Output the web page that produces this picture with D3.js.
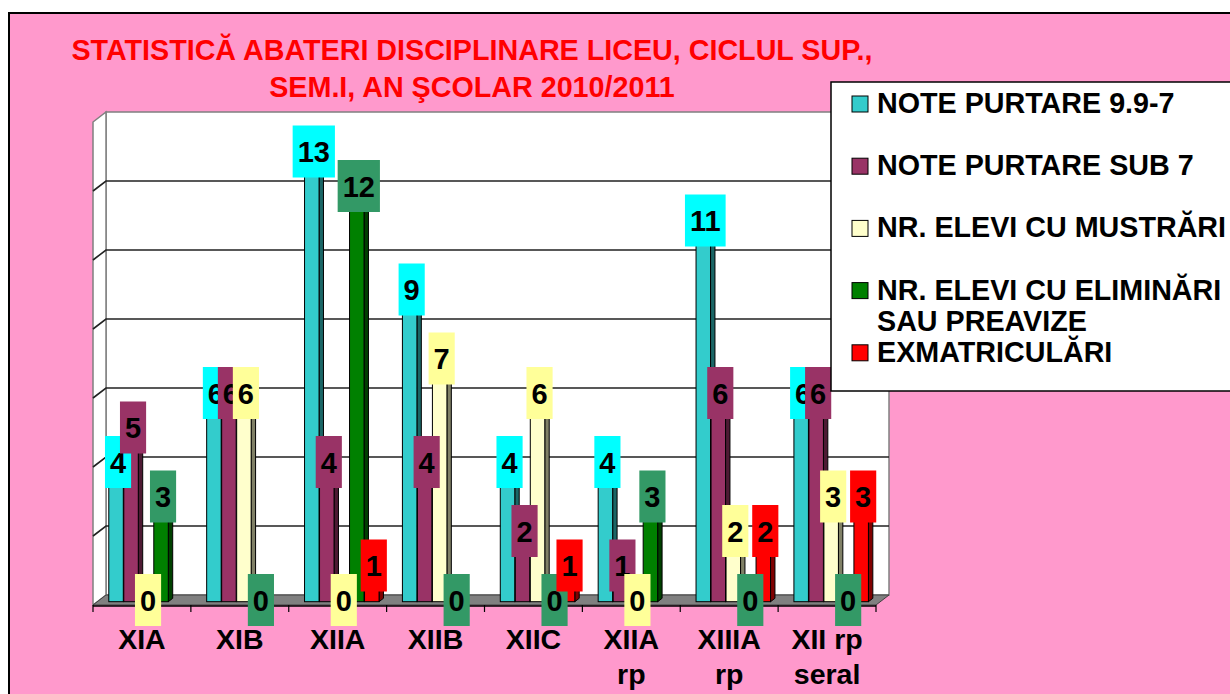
<!DOCTYPE html>
<html lang="en">
<head>
<meta charset="utf-8">
<script src="https://d3js.org/d3.v7.min.js"></script>
<style>
body { margin: 0; background: #ffffff; }
svg text { font-family: "Liberation Sans", Arial, sans-serif; font-weight: bold; }
</style>
</head>
<body>
<div id="chart"></div>
<script>
// chart size
var width = 1230, height = 694;

// data
var categories = ["XIA", "XIB", "XIIA", "XIIB", "XIIC", "XIIA rp", "XIIIA rp", "XII rp seral"];
var tickLabels = [["XIA"], ["XIB"], ["XIIA"], ["XIIB"], ["XIIC"], ["XIIA", "rp"], ["XIIIA", "rp"], ["XII rp", "seral"]];
var legendLabels = [["NOTE PURTARE 9.9-7"], ["NOTE PURTARE SUB 7"], ["NR. ELEVI CU MUSTRĂRI"],
                    ["NR. ELEVI CU ELIMINĂRI", "SAU PREAVIZE"], ["EXMATRICULĂRI"]];
var notePurtare   = [4, 6, 13, 9, 4, 4, 11, 6];
var noteSub7      = [5, 6, 4, 4, 2, 1, 6, 6];
var mustrari      = [0, 6, 0, 7, 6, 0, 2, 3];
var eliminari     = [3, 0, 12, 0, 0, 3, 0, 0];
var exmatriculari = [null, null, 1, null, 1, null, 2, 3];
var gridValues = [2, 4, 6, 8, 10, 12];
var titleLines = ["STATISTICĂ ABATERI DISCIPLINARE LICEU, CICLUL SUP.,", "SEM.I, AN ŞCOLAR 2010/2011"];

var series = [notePurtare, noteSub7, mustrari, eliminari, exmatriculari];
var faceColors  = ["#33cccc", "#993366", "#ffffcc", "#008000", "#ff0000"];
var sideColors  = ["#1a6666", "#4d1a33", "#808066", "#004000", "#800000"];
var labelColors = ["#00ffff", "#993366", "#ffff99", "#339966", "#ff0000"];

// 3d depth of the plot
var DX = 13, DY = -10;

var svg = d3.select("#chart").append("svg")
  .attr("width", width)
  .attr("height", height);

// pink chart area
svg.append("rect")
  .attr("x", 9).attr("y", 13)
  .attr("width", 1240).attr("height", 700)
  .attr("fill", "#ff99cc")
  .attr("stroke", "#000").attr("stroke-width", 2);

// title
svg.selectAll("text.title")
  .data(titleLines)
  .enter().append("text")
  .attr("class", "title")
  .attr("x", 472)
  .attr("y", function(d, i) { return 60 + i * 37; })
  .attr("text-anchor", "middle")
  .attr("fill", "#ff0000")
  .style("font-size", "28.7px")
  .text(function(d) { return d; });

// scales (front plane)
var x = d3.scaleBand().domain(categories).range([93, 876]);
var xs = d3.scaleBand().domain(d3.range(series.length)).range([11.5, 86.5]);
var y = d3.scaleLinear().domain([0, 14]).range([605, 122]);

var x0 = x.range()[0], x1 = x.range()[1];

// back wall
svg.append("rect")
  .attr("x", x0 + DX).attr("y", y(14) + DY)
  .attr("width", x1 - x0).attr("height", y(0) - y(14))
  .attr("fill", "#fff")
  .attr("stroke", "#808080").attr("stroke-width", 1.5);

// side wall
svg.append("polygon")
  .attr("points", [[x0, y(14)], [x0 + DX, y(14) + DY], [x0 + DX, y(0) + DY], [x0, y(0)]].join(" "))
  .attr("fill", "#fff")
  .attr("stroke", "#808080").attr("stroke-width", 1.5);

// gridlines
var grid = svg.append("g");
gridValues.forEach(function(v) {
  grid.append("path")
    .attr("d", "M" + x0 + "," + y(v) + "L" + (x0 + DX) + "," + (y(v) + DY) + "L" + (x1 + DX) + "," + (y(v) + DY))
    .attr("fill", "none")
    .attr("stroke", "#222").attr("stroke-width", 1.6);
});

// floor
svg.append("polygon")
  .attr("points", [[x0, y(0)], [x1, y(0)], [x1 + DX, y(0) + DY], [x0 + DX, y(0) + DY]].join(" "))
  .attr("fill", "#808080")
  .attr("stroke", "#404040").attr("stroke-width", 1);

// category axis
svg.append("line")
  .attr("x1", x0).attr("x2", x1)
  .attr("y1", y(0) + 1).attr("y2", y(0) + 1)
  .attr("stroke", "#000").attr("stroke-width", 1.5);
svg.selectAll("line.tick")
  .data(categories.concat(["end"]))
  .enter().append("line")
  .attr("class", "tick")
  .attr("x1", function(d, i) { return x0 + i * x.bandwidth(); })
  .attr("x2", function(d, i) { return x0 + i * x.bandwidth(); })
  .attr("y1", y(0)).attr("y2", y(0) + 7)
  .attr("stroke", "#000").attr("stroke-width", 1.2);

var catLabels = svg.selectAll("text.cat")
  .data(categories)
  .enter().append("text")
  .attr("class", "cat")
  .attr("text-anchor", "middle")
  .attr("fill", "#000")
  .style("font-size", "28.5px");
catLabels.each(function(d, i) {
  var t = d3.select(this);
  tickLabels[i].forEach(function(line, k) {
    t.append("tspan")
      .attr("x", x(d) + x.bandwidth() / 2)
      .attr("y", 649 + k * 35)
      .text(line);
  });
});

// bars
var T0 = 0.33, TD = 0.34; // bar front depth and bar thickness (fractions of depth)
var faceW = 14.5;
var bars = svg.append("g");
var labelData = [];
categories.forEach(function(c, i) {
  series.forEach(function(s, j) {
    var v = s[i];
    if (v === null) return;
    var fx = x(c) + xs(j) + DX * T0;
    var yTop = y(v) + DY * T0;
    var yBot = y(0) + DY * T0;
    var ox = DX * TD, oy = DY * TD;
    var g = bars.append("g");
    g.append("polygon")
      .attr("points", [[fx + faceW, yTop], [fx + faceW + ox, yTop + oy], [fx + faceW + ox, yBot + oy], [fx + faceW, yBot]].join(" "))
      .attr("fill", sideColors[j]).attr("stroke", "#000").attr("stroke-width", 1);
    g.append("polygon")
      .attr("points", [[fx, yTop], [fx + faceW, yTop], [fx + faceW + ox, yTop + oy], [fx + ox, yTop + oy]].join(" "))
      .attr("fill", faceColors[j]).attr("stroke", "#000").attr("stroke-width", 1);
    g.append("rect")
      .attr("x", fx).attr("y", yTop)
      .attr("width", faceW).attr("height", yBot - yTop)
      .attr("fill", faceColors[j]).attr("stroke", "#000").attr("stroke-width", 1);
    labelData.push({ s: j, v: v, cx: fx + faceW / 2 + 2, cy: y(v) + DY * 0.5 });
  });
});

// data labels, series by series
labelData.sort(function(a, b) { return a.s - b.s; });
var labels = svg.append("g");
labelData.forEach(function(d) {
  var g = labels.append("g");
  var box = g.append("rect").attr("fill", labelColors[d.s]);
  var t = g.append("text")
    .attr("x", d.cx).attr("y", d.cy + 10.5)
    .attr("text-anchor", "middle")
    .attr("fill", "#000")
    .style("font-size", "29px")
    .text(d.v);
  var w = t.node().getComputedTextLength() + 10;
  box.attr("x", d.cx - w / 2).attr("y", d.cy - 26)
    .attr("width", w).attr("height", 52);
});

// legend
var legend = svg.append("g");
legend.append("rect")
  .attr("x", 831).attr("y", 82)
  .attr("width", 420).attr("height", 309)
  .attr("fill", "#fff")
  .attr("stroke", "#000").attr("stroke-width", 1.5);
legendLabels.forEach(function(lines, i) {
  var base = 113 + i * 62.2;
  legend.append("rect")
    .attr("x", 852).attr("y", base - 17)
    .attr("width", 16).attr("height", 16)
    .attr("fill", faceColors[i])
    .attr("stroke", "#000").attr("stroke-width", 1);
  var t = legend.append("text")
    .attr("fill", "#000")
    .style("font-size", "28.7px");
  lines.forEach(function(line, k) {
    t.append("tspan")
      .attr("x", 877)
      .attr("y", base + k * 31.5)
      .text(line);
  });
});
</script>
</body>
</html>
